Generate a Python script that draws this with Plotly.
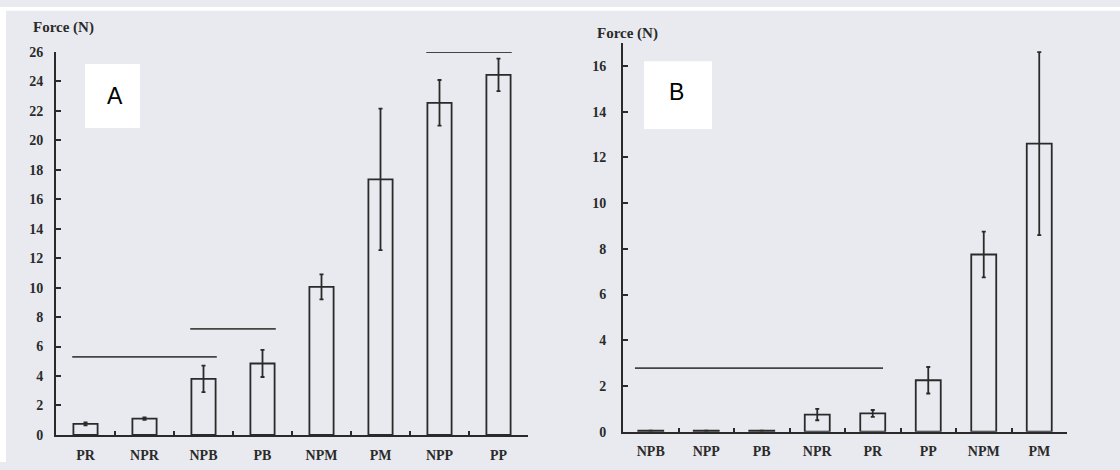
import plotly.graph_objects as go

# Panel A data
cats_a = ["PR", "NPR", "NPB", "PB", "NPM", "PM", "NPP", "PP"]
vals_a = [0.75, 1.1, 3.8, 4.85, 10.05, 17.35, 22.55, 24.45]
err_a = [0.1, 0.08, 0.9, 0.92, 0.85, 4.8, 1.55, 1.1]
sig_a = [("PR", "NPB", 5.3), ("NPB", "PB", 7.2), ("NPP", "PP", 26.0)]

# Panel B data
cats_b = ["NPB", "NPP", "PB", "NPR", "PR", "PP", "NPM", "PM"]
vals_b = [0.05, 0.05, 0.05, 0.75, 0.8, 2.25, 7.75, 12.6]
err_b = [0.0, 0.0, 0.0, 0.25, 0.15, 0.58, 1.0, 4.0]
sig_b = [("NPB", "PR", 2.78)]

BG = "#e9eaef"
INK = "#2a2a2a"
FONT = "Liberation Serif"
BW_A = 0.41
BW_B = 0.45
W, H = 1120, 470


def py(px):
    return 1 - px / H


def px_(x):
    return x / W


fig = go.Figure()


def add_bars(cats, vals, errs, xa, ya, bw):
    fig.add_trace(go.Bar(
        x=cats, y=vals, width=bw, xaxis=xa, yaxis=ya,
        marker=dict(color="rgba(0,0,0,0)", line=dict(color=INK, width=1.8)),
        error_y=dict(type="data", array=errs, visible=True, color=INK,
                     thickness=1.8, width=2),
        showlegend=False, hoverinfo="x+y",
    ))


add_bars(cats_a, vals_a, err_a, "x", "y", BW_A)
add_bars(cats_b, vals_b, err_b, "x2", "y2", BW_B)

shapes = []
# background and white scan border
shapes.append(dict(type="rect", xref="paper", yref="paper", x0=0, x1=1, y0=0, y1=1,
                   fillcolor=BG, line=dict(width=0), layer="below"))
shapes.append(dict(type="rect", xref="paper", yref="paper", x0=0, x1=1,
                   y0=py(4), y1=1, fillcolor="white", line=dict(width=0), layer="below"))
shapes.append(dict(type="rect", xref="paper", yref="paper", x0=0, x1=px_(6),
                   y0=0, y1=1, fillcolor="white", line=dict(width=0), layer="below"))

for (c0, c1, yv) in sig_a:
    i0, i1 = cats_a.index(c0), cats_a.index(c1)
    shapes.append(dict(type="line", xref="x", yref="y", x0=i0 - BW_A / 2 - 0.02,
                       x1=i1 + BW_A / 2 + 0.02, y0=yv, y1=yv,
                       line=dict(color="#444", width=1.8)))
for (c0, c1, yv) in sig_b:
    i0, i1 = cats_b.index(c0), cats_b.index(c1)
    shapes.append(dict(type="line", xref="x2", yref="y2", x0=i0 - BW_B / 2 - 0.06,
                       x1=i1 + BW_B / 2 - 0.04, y0=yv, y1=yv,
                       line=dict(color="#444", width=1.8)))

# white label boxes
shapes.append(dict(type="rect", xref="paper", yref="paper", x0=px_(85), x1=px_(140),
                   y0=py(125), y1=py(59), fillcolor="white", line=dict(width=0)))
shapes.append(dict(type="rect", xref="paper", yref="paper", x0=px_(644), x1=px_(712),
                   y0=py(126), y1=py(56), fillcolor="white", line=dict(width=0)))

annotations = [
    dict(text="A", xref="paper", yref="paper", x=px_(115), y=py(92),
         xanchor="center", yanchor="middle",
         showarrow=False, font=dict(family="Liberation Sans", size=23, color="black")),
    dict(text="B", xref="paper", yref="paper", x=px_(676), y=py(88),
         xanchor="center", yanchor="middle",
         showarrow=False, font=dict(family="Liberation Sans", size=23, color="black")),
    dict(text="<b>Force (N)</b>", xref="paper", yref="paper", x=px_(31), y=py(21),
         xanchor="left", yanchor="middle", showarrow=False,
         font=dict(family=FONT, size=15, color=INK)),
    dict(text="<b>Force (N)</b>", xref="paper", yref="paper", x=px_(595), y=py(27),
         xanchor="left", yanchor="middle", showarrow=False,
         font=dict(family=FONT, size=15, color=INK)),
]

tickfont = dict(family=FONT, size=14, color=INK, weight="bold")
common_x = dict(type="category", showline=True, linecolor=INK, linewidth=1.8,
                ticks="inside", ticklen=4, tickwidth=1.5, tickcolor=INK,
                tickson="boundaries", showgrid=False, zeroline=False,
                tickfont=tickfont, ticklabelstandoff=6, range=[-0.5, 7.5])
common_y = dict(showline=True, linecolor=INK, linewidth=1.8, ticks="inside",
                ticklen=5, tickwidth=1.5, tickcolor=INK, showgrid=False,
                zeroline=False, tickfont=tickfont, dtick=2, tick0=0)

fig.update_layout(
    width=W, height=H, margin=dict(l=0, r=0, t=0, b=0),
    paper_bgcolor=BG, plot_bgcolor="rgba(0,0,0,0)",
    bargap=0.5,
    xaxis=dict(domain=[px_(56), px_(528)], anchor="y", **common_x),
    yaxis=dict(domain=[py(442), py(46.5)], anchor="x", range=[0, 26],
               ticklabelstandoff=8, **common_y),
    xaxis2=dict(domain=[px_(623), px_(1067)], anchor="y2", **common_x),
    yaxis2=dict(domain=[py(438.7), py(37.2)], anchor="x2", range=[0, 17],
                ticklabelstandoff=12, **common_y),
    shapes=shapes, annotations=annotations,
    font=dict(family=FONT, color=INK),
)

fig.write_html("out.html", config={"displayModeBar": False},
               post_script="document.body.style.margin='0';")
